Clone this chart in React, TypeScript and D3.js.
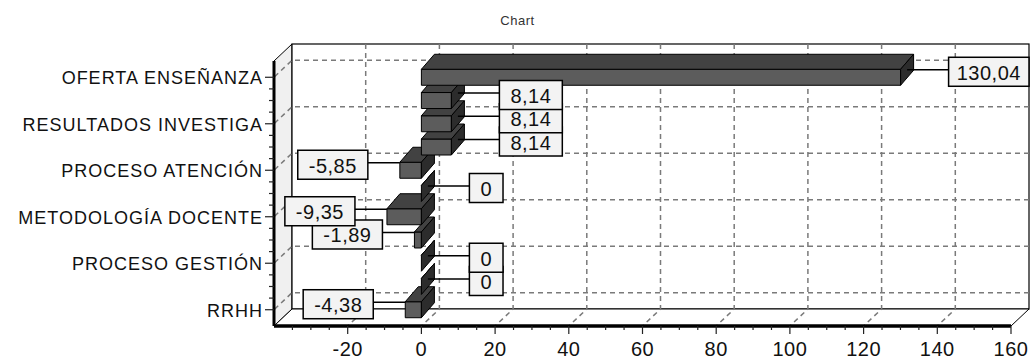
import React from "react";
import * as d3 from "d3";

// ---------- data ----------
const title = "Chart";
const categories = [
  "OFERTA ENSEÑANZA",
  "",
  "RESULTADOS INVESTIGA",
  "",
  "PROCESO ATENCIÓN",
  "",
  "METODOLOGÍA DOCENTE",
  "",
  "PROCESO GESTIÓN",
  "",
  "RRHH",
];
const values = [130.04, 8.14, 8.14, 8.14, -5.85, 0, -9.35, -1.89, 0, 0, -4.38];
const xTicks = [-20, 0, 20, 40, 60, 80, 100, 120, 140, 160];
const xDomain = [-40, 160];

// ---------- layout ----------
const W = 1035;
const H = 360;
const plot = { left: 274, right: 1011, top: 61, bottom: 326 };
const wall = { dx: 18, dy: -17 };
const bar = { dx: 13, dy: -15, half: 8 };
const FONT = "'Liberation Sans', Arial, sans-serif";

const x = d3.scaleLinear().domain(xDomain).range([plot.left, plot.right]);
const y = d3
  .scaleLinear()
  .domain([-0.7, categories.length - 0.3])
  .range([plot.top, plot.bottom]);

const locale = d3.formatLocale({
  decimal: ",",
  thousands: ".",
  grouping: [3],
  currency: ["", "€"],
  minus: "-",
});
const fmt = locale.format(".2~f");

const charW: Record<string, number> = { ",": 0.278, "-": 0.333, ".": 0.278 };
function textWidth(s: string, size: number, spacing: number) {
  let w = 0;
  for (const c of s) w += (charW[c] ?? 0.556) * size + spacing;
  return w;
}

const gridColor = "#7a7a7a";
const dash = "5,4";

export default function App() {
  const backLeft = plot.left + wall.dx;
  const backRight = plot.right + wall.dx;
  const backTop = plot.top + wall.dy;
  const backBottom = plot.bottom + wall.dy;

  const labelIdx = categories.map((c, i) => i).filter((i) => categories[i] !== "");

  const leftTicks = d3.range(0, categories.length - 0.99, 0.5);
  const bottomMinor = d3.range(-35, 160.01, 5);

  const order = values.map((_, i) => i).reverse();

  return (
    <svg
      width={W}
      height={H}
      style={{ position: "fixed", left: 0, top: 0, background: "#fff" }}
      fontFamily={FONT}
    >
      <rect x={0} y={0} width={W} height={H} fill="#fff" />
      <text x={W / 2} y={20} textAnchor="middle" dominantBaseline="central" fontSize={13} fill="#333" letterSpacing={0.5}>
        {title}
      </text>

      {/* side wall */}
      <polygon
        points={`${plot.left},${plot.top} ${backLeft},${backTop} ${backLeft},${backBottom} ${plot.left},${plot.bottom}`}
        fill="#f0f0f0"
        stroke="#000"
        strokeWidth={1}
      />
      {/* back wall */}
      <rect x={backLeft} y={backTop} width={backRight - backLeft} height={backBottom - backTop} fill="#fff" stroke="#000" strokeWidth={1.2} />
      {/* floor */}
      <polygon
        points={`${plot.left},${plot.bottom} ${backLeft},${backBottom} ${backRight},${backBottom} ${plot.right},${plot.bottom}`}
        fill="#fff"
        stroke="#000"
        strokeWidth={1}
      />

      {/* horizontal grid */}
      {labelIdx.map((i) => {
        const yb = y(i) + wall.dy;
        return (
          <polyline
            key={"hg" + i}
            points={`${backRight},${yb} ${backLeft},${yb} ${plot.left},${y(i)}`}
            fill="none"
            stroke={gridColor}
            strokeWidth={1.5}
            strokeDasharray={dash}
          />
        );
      })}
      {/* vertical grid */}
      {xTicks
        .filter((t) => t < xDomain[1])
        .map((t) => {
          const xb = x(t) + wall.dx;
          return (
            <polyline
              key={"vg" + t}
              points={`${xb},${backTop} ${xb},${backBottom} ${x(t)},${plot.bottom}`}
              fill="none"
              stroke={gridColor}
              strokeWidth={1.5}
              strokeDasharray={dash}
            />
          );
        })}

      {/* bars */}
      {order.map((i) => {
        const v = values[i];
        const yc = y(i);
        const l = Math.min(x(0), x(v));
        const r = Math.max(x(0), x(v));
        const t = yc - bar.half;
        const b = yc + bar.half;
        return (
          <g key={"b" + i} stroke="#000" strokeWidth={1} strokeLinejoin="round">
            <rect x={l} y={t} width={r - l} height={b - t} fill="#5c5c5c" />
            <polygon
              points={`${l},${t} ${l + bar.dx},${t + bar.dy} ${r + bar.dx},${t + bar.dy} ${r},${t}`}
              fill="#424242"
            />
            <polygon
              points={`${r},${t} ${r + bar.dx},${t + bar.dy} ${r + bar.dx},${b + bar.dy} ${r},${b}`}
              fill="#2c2c2c"
            />
          </g>
        );
      })}

      {/* value labels */}
      {order.map((i) => {
        const v = values[i];
        const s = fmt(v);
        const yConn = y(i) + bar.dy / 2;
        const bw = textWidth(s, 20, 0.5) + 22;
        let bx: number;
        let cx0: number;
        let cx1: number;
        let width = bw;
        if (v >= 0) {
          cx0 = x(v) + bar.dx / 2;
          cx1 = x(v) + 48;
          bx = cx1;
          width = Math.min(bw, backRight - bx);
        } else {
          cx0 = x(v);
          cx1 = x(v) - 32;
          bx = cx1 - bw;
        }
        const bh = 29;
        const by = yConn - 12.5;
        return (
          <g key={"l" + i}>
            <line x1={cx0} x2={cx1} y1={yConn} y2={yConn} stroke="#000" strokeWidth={1.5} />
            <rect x={bx} y={by} width={width} height={bh} fill="#f3f3f3" stroke="#000" strokeWidth={1.5} />
            <text
              x={bx + width / 2}
              y={by + bh / 2 + 1}
              textAnchor="middle"
              dominantBaseline="central"
              fontSize={20}
              letterSpacing={0.5}
              fill="#111"
            >
              {s}
            </text>
          </g>
        );
      })}

      {/* left axis */}
      <line x1={plot.left} x2={plot.left} y1={plot.top} y2={plot.bottom} stroke="#000" strokeWidth={3} />
      {leftTicks.map((i) => {
        const major = Number.isInteger(i) && categories[i] !== "";
        return (
          <line
            key={"lt" + i}
            x1={plot.left - (major ? 9 : 5)}
            x2={plot.left}
            y1={y(i)}
            y2={y(i)}
            stroke="#222"
            strokeWidth={1.2}
          />
        );
      })}
      {labelIdx.map((i) => (
        <text
          key={"cl" + i}
          x={plot.left - 11}
          y={y(i) + 1}
          textAnchor="end"
          dominantBaseline="central"
          fontSize={18}
          letterSpacing={1}
          fill="#111"
        >
          {categories[i]}
        </text>
      ))}

      {/* bottom axis */}
      <line x1={plot.left} x2={plot.right} y1={plot.bottom} y2={plot.bottom} stroke="#000" strokeWidth={3.5} />
      {bottomMinor.map((t) => {
        const major = t % 20 === 0;
        return (
          <line
            key={"bt" + t}
            x1={x(t)}
            x2={x(t)}
            y1={plot.bottom}
            y2={plot.bottom + (major ? 8 : 4)}
            stroke="#222"
            strokeWidth={1.2}
          />
        );
      })}
      {xTicks.map((t) => (
        <text
          key={"xl" + t}
          x={x(t)}
          y={349}
          textAnchor="middle"
          dominantBaseline="central"
          fontSize={20}
          letterSpacing={0.5}
          fill="#111"
        >
          {fmt(t)}
        </text>
      ))}
    </svg>
  );
}
